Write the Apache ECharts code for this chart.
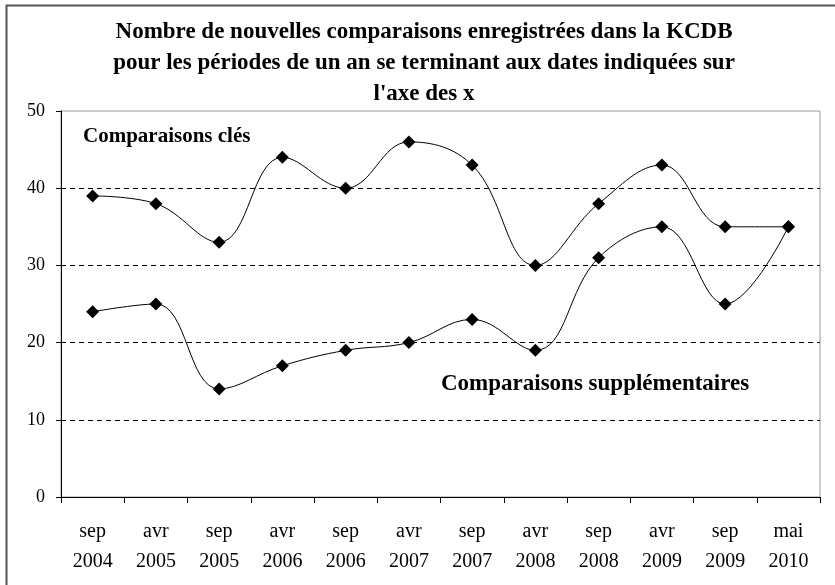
<!DOCTYPE html>
<html>
<head>
<meta charset="utf-8">
<script src="https://cdn.jsdelivr.net/npm/echarts@6/dist/echarts.min.js"></script>
<style>
  html, body { margin: 0; padding: 0; background: #fff; }
  #main { width: 835px; height: 585px; }
</style>
</head>
<body>
<div id="main"></div>
<script>
// périodes (axe des x)
var periodes = ['sep\n2004', 'avr\n2005', 'sep\n2005', 'avr\n2006', 'sep\n2006', 'avr\n2007',
                'sep\n2007', 'avr\n2008', 'sep\n2008', 'avr\n2009', 'sep\n2009', 'mai\n2010'];
// comparaisons clés
var cles = [39, 38, 33, 44, 40, 46, 43, 30, 38, 43, 35, 35];
// comparaisons supplémentaires
var supplementaires = [24, 25, 14, 17, 19, 20, 23, 19, 31, 35, 25, 35];

(function () {
    var myChart = echarts.init(document.getElementById('main'));
    var serif = '"Liberation Serif", "DejaVu Serif", serif';

    var serie = function (nom, data) {
        return {
            name: nom,
            type: 'line',
            data: data,
            smooth: 0.4,
            symbol: 'diamond',
            symbolSize: 13,
            lineStyle: { color: '#000', width: 1 },
            itemStyle: { color: '#000' },
            emphasis: { disabled: true }
        };
    };

    option = {
        animation: false,
        backgroundColor: '#fff',
        title: {
            text: 'Nombre de nouvelles comparaisons enregistrées dans la KCDB\npour les périodes de un an se terminant aux dates indiquées sur\nl\'axe des x',
            left: 419,
            top: 12,
            textAlign: 'center',
            textStyle: {
                fontFamily: serif,
                fontWeight: 'bold',
                fontSize: 23,
                lineHeight: 31,
                color: '#000'
            }
        },
        grid: {
            left: 61,
            right: 15,
            top: 111,
            bottom: 88,
            show: true,
            borderColor: '#999',
            borderWidth: 1
        },
        xAxis: {
            type: 'category',
            data: periodes,
            boundaryGap: true,
            axisLine: { lineStyle: { color: '#000', width: 1 } },
            axisTick: { show: true, length: 6, lineStyle: { color: '#000' } },
            axisLabel: {
                color: '#000',
                fontFamily: serif,
                fontSize: 20,
                lineHeight: 30,
                margin: 20,
                interval: 0
            }
        },
        yAxis: {
            type: 'value',
            min: 0,
            max: 50,
            interval: 10,
            axisLine: { show: true, lineStyle: { color: '#000', width: 1 } },
            axisTick: { show: true, length: 5, lineStyle: { color: '#000' } },
            axisLabel: {
                color: '#000',
                fontFamily: serif,
                fontSize: 18,
                margin: 16
            },
            splitLine: {
                show: true,
                lineStyle: {
                    type: [5, 4],
                    width: 1,
                    color: ['transparent', '#000', '#000', '#000', '#000', 'transparent']
                }
            }
        },
        graphic: [
            {
                type: 'rect',
                left: 4,
                top: 3,
                shape: { width: 900, height: 700 },
                style: { fill: 'none', stroke: '#555', lineWidth: 2 },
                silent: true
            },
            {
                type: 'text',
                left: 83,
                top: 126,
                style: {
                    text: 'Comparaisons clés',
                    font: 'bold 21px ' + serif,
                    fill: '#000'
                }
            },
            {
                type: 'text',
                left: 441,
                top: 373,
                style: {
                    text: 'Comparaisons supplémentaires',
                    font: 'bold 23px ' + serif,
                    fill: '#000'
                }
            }
        ],
        series: [
            serie('Comparaisons clés', cles),
            serie('Comparaisons supplémentaires', supplementaires)
        ]
    };

    myChart.setOption(option);
})();
</script>
</body>
</html>
